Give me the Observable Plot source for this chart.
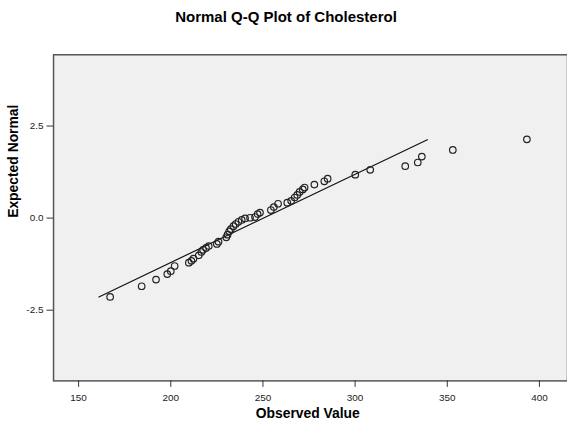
<!DOCTYPE html>
<html>
<head>
<meta charset="utf-8">
<script src="https://cdn.jsdelivr.net/npm/d3@7"></script>
<script src="https://cdn.jsdelivr.net/npm/@observablehq/plot@0.6"></script>
<style>
  html, body { margin: 0; padding: 0; background: #fff; overflow: hidden; width: 567px; height: 426px; }
  #title { box-sizing: border-box; height: 30px; padding-top: 8.3px; padding-left: 5px; line-height: 17px;
    font: bold 15px "Liberation Sans", Arial, sans-serif; text-align: center; color: #000; width: 567px; }
  svg { display: block; }
</style>
</head>
<body>
<div id="title">Normal Q-Q Plot of Cholesterol</div>
<div id="chart"></div>
<script>
const observedValue = [167.1, 184.2, 192.0, 198.1, 200.0, 202.1, 209.8, 211.2, 212.3, 215.2, 216.6, 217.5, 219.1, 220.6, 225.0, 225.9, 230.1, 230.8, 231.7, 232.6, 234.0, 235.2, 236.7, 238.5, 240.3, 243.0, 245.7, 247.1, 248.4, 254.3, 255.9, 258.2, 263.2, 265.3, 267.2, 268.6, 269.9, 271.6, 272.6, 277.9, 283.3, 285.1, 300.1, 308.2, 327.2, 334.0, 336.2, 353.0, 393.2];
const expectedNormal = [-2.14, -1.85, -1.67, -1.52, -1.44, -1.30, -1.21, -1.16, -1.10, -1.01, -0.92, -0.86, -0.81, -0.76, -0.70, -0.64, -0.52, -0.45, -0.36, -0.30, -0.22, -0.16, -0.10, -0.05, -0.01, 0.01, 0.03, 0.11, 0.15, 0.22, 0.30, 0.39, 0.42, 0.47, 0.56, 0.63, 0.71, 0.78, 0.83, 0.91, 1.00, 1.07, 1.18, 1.31, 1.41, 1.51, 1.67, 1.85, 2.14];
const refLineX = [161.0, 339.2];
const refLineY = [-2.14, 2.13];
const xTicks = [150, 200, 250, 300, 350, 400];
const yTicks = [-2.5, 0.0, 2.5];

const points = observedValue.map((v, i) => ({x: v, y: expectedNormal[i]}));
const refLine = refLineX.map((v, i) => ({x: v, y: refLineY[i]}));

const chart = Plot.plot({
  width: 572,
  height: 396,
  marginTop: 24.5,
  marginBottom: 42.5,
  marginLeft: 53.5,
  marginRight: 0,
  style: {fontFamily: "'Liberation Sans', Arial, sans-serif", fontSize: "10px", color: "#222", background: "white"},
  x: {domain: [136.39, 415.22]},
  y: {domain: [-4.42, 4.435]},
  marks: [
    Plot.frame({fill: "#f0f0f0", stroke: "#555", strokeWidth: 1.5}),
    Plot.axisX(xTicks, {tickSize: 6.5, tickPadding: 6.5, stroke: "#333", fill: "#222", label: null, fontSize: 10}),
    Plot.axisY(yTicks, {tickSize: 6.5, tickPadding: 3.7, stroke: "#333", fill: "#222", label: null, fontSize: 10, tickFormat: d => d.toFixed(1)}),
    Plot.line(refLine, {x: "x", y: "y", stroke: "#111", strokeWidth: 1.2}),
    Plot.dot(points, {x: "x", y: "y", r: 3.3, stroke: "#222", strokeWidth: 1.2, fill: "none"}),
    Plot.text(["Observed Value"], {frameAnchor: "bottom", dy: 33, dx: -2.75, lineAnchor: "middle", fontWeight: "bold", fontSize: 14, fill: "#000"}),
    Plot.text(["Expected Normal"], {frameAnchor: "left", dx: -40, rotate: -90, lineAnchor: "middle", fontWeight: "bold", fontSize: 14, fill: "#000"})
  ]
});
document.getElementById("chart").appendChild(chart);
</script>
</body>
</html>
